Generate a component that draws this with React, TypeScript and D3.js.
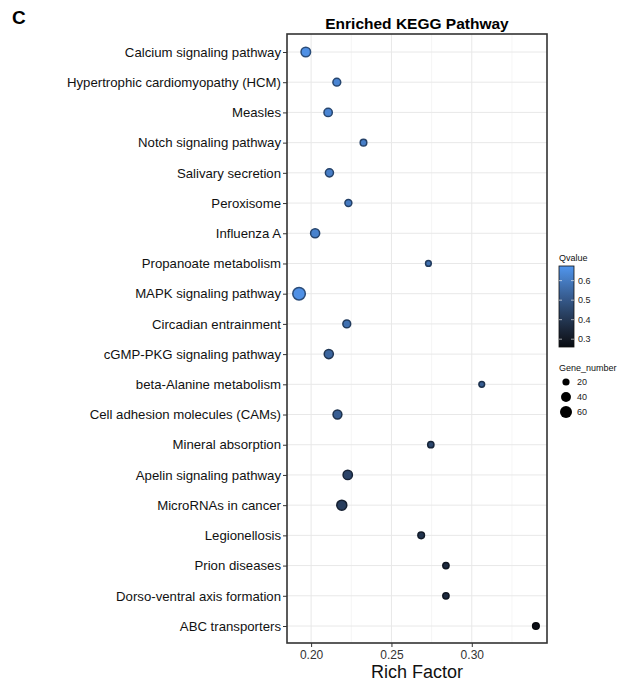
import { useEffect, useRef } from 'react';
import * as d3 from 'd3';

const pathways = [
  'Calcium signaling pathway',
  'Hypertrophic cardiomyopathy (HCM)',
  'Measles',
  'Notch signaling pathway',
  'Salivary secretion',
  'Peroxisome',
  'Influenza A',
  'Propanoate metabolism',
  'MAPK signaling pathway',
  'Circadian entrainment',
  'cGMP-PKG signaling pathway',
  'beta-Alanine metabolism',
  'Cell adhesion molecules (CAMs)',
  'Mineral absorption',
  'Apelin signaling pathway',
  'MicroRNAs in cancer',
  'Legionellosis',
  'Prion diseases',
  'Dorso-ventral axis formation',
  'ABC transporters',
];
const richFactor = [
  0.1967, 0.216, 0.2106, 0.2326, 0.2114, 0.2232, 0.2025, 0.273, 0.1925, 0.2222,
  0.211, 0.3062, 0.2164, 0.2745, 0.2228, 0.2191, 0.2685, 0.2839, 0.2839, 0.3399,
];
const qValue = [
  0.66, 0.63, 0.63, 0.61, 0.61, 0.6, 0.62, 0.57, 0.66, 0.57,
  0.54, 0.52, 0.52, 0.45, 0.44, 0.42, 0.39, 0.36, 0.36, 0.27,
];
const geneNumber = [
  42, 28, 32, 20, 30, 22, 38, 15, 72, 28,
  38, 15, 36, 18, 40, 46, 20, 18, 18, 20,
];
const xTicks = [0.2, 0.25, 0.3];
const xMinor = [0.175, 0.225, 0.275, 0.325];
const qTicks = [0.3, 0.4, 0.5, 0.6];
const sizeLegend = [20, 40, 60];

const W = 633;
const H = 686;
const panel = { left: 287, top: 34, right: 547, bottom: 643 };
const font = '"Liberation Sans", Arial, Helvetica, sans-serif';

export default function App() {
  const ref = useRef<SVGSVGElement>(null);

  useEffect(() => {
    const svg = d3.select(ref.current);
    svg.selectAll('*').remove();

    const x = d3.scaleLinear().domain([0.185, 0.3468]).range([panel.left, panel.right]);
    const y = d3
      .scalePoint<string>()
      .domain(pathways)
      .range([panel.top + 18, panel.bottom - 17]);
    const color = d3
      .scaleLinear<string>()
      .domain([0.26, 0.675])
      .range(['#070b12', '#5196ee'])
      .interpolate(d3.interpolateLab)
      .clamp(true);
    const r = d3.scaleSqrt().domain([0, 80]).range([0, 6.6]);

    svg.append('rect').attr('width', W).attr('height', H).attr('fill', '#fff');

    // figure letter + title
    svg
      .append('text')
      .attr('x', 12)
      .attr('y', 24)
      .attr('font-family', font)
      .attr('font-weight', 'bold')
      .attr('font-size', 19)
      .text('C');
    svg
      .append('text')
      .attr('x', (panel.left + panel.right) / 2)
      .attr('y', 29)
      .attr('text-anchor', 'middle')
      .attr('font-family', font)
      .attr('font-weight', 'bold')
      .attr('font-size', 15.5)
      .text('Enriched KEGG Pathway');

    const g = svg.append('g');

    // grid
    g.selectAll('line.minor')
      .data(xMinor.filter((d) => x(d) > panel.left))
      .enter()
      .append('line')
      .attr('x1', (d) => x(d))
      .attr('x2', (d) => x(d))
      .attr('y1', panel.top)
      .attr('y2', panel.bottom)
      .attr('stroke', '#f2f2f2')
      .attr('stroke-width', 0.8);
    g.selectAll('line.vmajor')
      .data(xTicks)
      .enter()
      .append('line')
      .attr('x1', (d) => x(d))
      .attr('x2', (d) => x(d))
      .attr('y1', panel.top)
      .attr('y2', panel.bottom)
      .attr('stroke', '#e8e8e8')
      .attr('stroke-width', 1);
    g.selectAll('line.hmajor')
      .data(pathways)
      .enter()
      .append('line')
      .attr('x1', panel.left)
      .attr('x2', panel.right)
      .attr('y1', (d) => y(d)!)
      .attr('y2', (d) => y(d)!)
      .attr('stroke', '#e8e8e8')
      .attr('stroke-width', 1);

    // points
    g.selectAll('circle.pt')
      .data(pathways)
      .enter()
      .append('circle')
      .attr('cx', (_, i) => x(richFactor[i]))
      .attr('cy', (d) => y(d)!)
      .attr('r', (_, i) => r(geneNumber[i]))
      .attr('fill', (_, i) => color(qValue[i]))
      .attr('stroke', (_, i) => d3.color(color(qValue[i]))!.darker(1.8).toString())
      .attr('stroke-width', 1.5);

    // panel border
    svg
      .append('rect')
      .attr('x', panel.left)
      .attr('y', panel.top)
      .attr('width', panel.right - panel.left)
      .attr('height', panel.bottom - panel.top)
      .attr('fill', 'none')
      .attr('stroke', '#333')
      .attr('stroke-width', 1.6);

    // y axis
    const yAxis = svg
      .append('g')
      .attr('transform', `translate(${panel.left},0)`)
      .call(d3.axisLeft(y).tickSize(4).tickPadding(2));
    yAxis.select('.domain').remove();
    yAxis.selectAll('line').attr('stroke', '#333');
    yAxis
      .selectAll('text')
      .attr('font-family', font)
      .attr('font-size', 13.2)
      .attr('fill', '#111');

    // x axis
    const xAxis = svg
      .append('g')
      .attr('transform', `translate(0,${panel.bottom})`)
      .call(
        d3
          .axisBottom(x)
          .tickValues(xTicks)
          .tickFormat(d3.format('.2f'))
          .tickSize(4)
          .tickPadding(3)
      );
    xAxis.select('.domain').remove();
    xAxis.selectAll('line').attr('stroke', '#333');
    xAxis
      .selectAll('text')
      .attr('font-family', font)
      .attr('font-size', 12)
      .attr('fill', '#333');
    svg
      .append('text')
      .attr('x', (panel.left + panel.right) / 2)
      .attr('y', 678)
      .attr('text-anchor', 'middle')
      .attr('font-family', font)
      .attr('font-size', 18)
      .attr('fill', '#111')
      .text('Rich Factor');

    // colour legend
    const lx = 559;
    const bar = { top: 266, bottom: 347, w: 15 };
    const qy = d3.scaleLinear().domain([0.26, 0.675]).range([bar.bottom, bar.top]);
    const defs = svg.append('defs');
    const grad = defs
      .append('linearGradient')
      .attr('id', 'qgrad')
      .attr('x1', 0)
      .attr('y1', 1)
      .attr('x2', 0)
      .attr('y2', 0);
    d3.range(0, 1.01, 0.1).forEach((t) => {
      grad
        .append('stop')
        .attr('offset', t)
        .attr('stop-color', color(0.26 + t * (0.675 - 0.26)));
    });
    svg
      .append('text')
      .attr('x', lx)
      .attr('y', 261)
      .attr('font-family', font)
      .attr('font-size', 9)
      .attr('fill', '#111')
      .text('Qvalue');
    svg
      .append('rect')
      .attr('x', lx)
      .attr('y', bar.top)
      .attr('width', bar.w)
      .attr('height', bar.bottom - bar.top)
      .attr('fill', 'url(#qgrad)')
      .attr('stroke', '#111')
      .attr('stroke-width', 0.8);
    const qt = svg.append('g');
    qTicks.forEach((q) => {
      qt.append('line')
        .attr('x1', lx)
        .attr('x2', lx + 3)
        .attr('y1', qy(q))
        .attr('y2', qy(q))
        .attr('stroke', '#fff')
        .attr('stroke-opacity', 0.6);
      qt.append('line')
        .attr('x1', lx + bar.w - 3)
        .attr('x2', lx + bar.w)
        .attr('y1', qy(q))
        .attr('y2', qy(q))
        .attr('stroke', '#fff')
        .attr('stroke-opacity', 0.6);
      qt.append('text')
        .attr('x', lx + bar.w + 4)
        .attr('y', qy(q) + 3)
        .attr('font-family', font)
        .attr('font-size', 9)
        .attr('fill', '#222')
        .text(String(q));
    });

    // size legend
    svg
      .append('text')
      .attr('x', lx)
      .attr('y', 371)
      .attr('font-family', font)
      .attr('font-size', 9)
      .attr('fill', '#111')
      .text('Gene_number');
    sizeLegend.forEach((n, i) => {
      const cy = 382 + i * 15;
      svg
        .append('circle')
        .attr('cx', lx + 7)
        .attr('cy', cy)
        .attr('r', r(n) + 0.3)
        .attr('fill', '#000');
      svg
        .append('text')
        .attr('x', lx + 18)
        .attr('y', cy + 3)
        .attr('font-family', font)
        .attr('font-size', 9)
        .attr('fill', '#222')
        .text(String(n));
    });
  }, []);

  return (
    <svg
      ref={ref}
      width={W}
      height={H}
      style={{ display: 'block', position: 'absolute', left: 0, top: 0 }}
    />
  );
}
